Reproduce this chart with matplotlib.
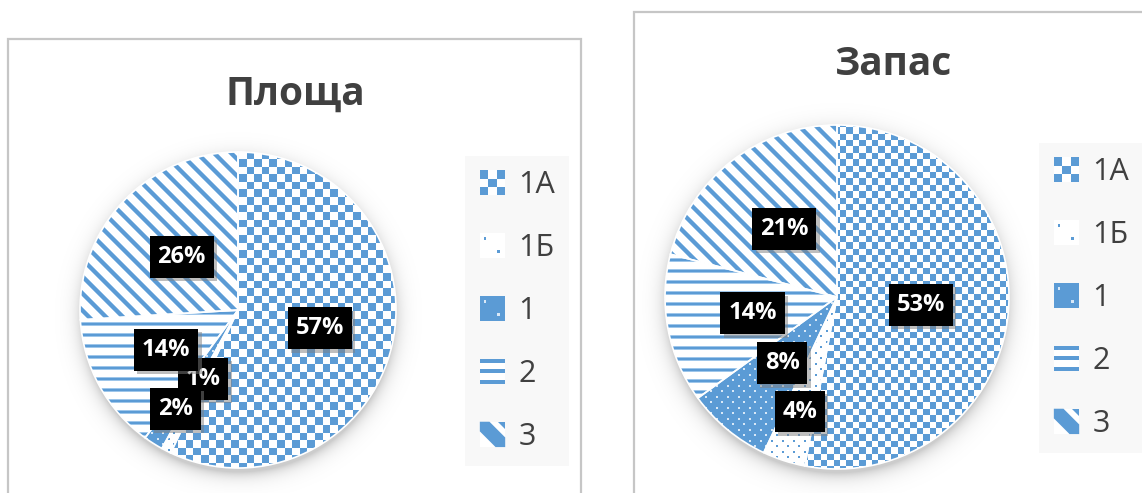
import numpy as np
import matplotlib
matplotlib.use("Agg")
import matplotlib.pyplot as plt
from matplotlib.patches import Rectangle, Polygon, Patch
from matplotlib.path import Path
import matplotlib.patheffects as pe

# ---------------- data ----------------
categories = ["1А", "1Б", "1", "2", "3"]
area_pct = [57, 1, 2, 14, 26]
stock_pct = [53, 4, 8, 14, 21]
chart_titles = ["Площа", "Запас"]

# ---------------- style ----------------
W, H, DPI = 1142, 493, 100
BLUE = np.array([91, 155, 213]) / 255.0
LIGHT = np.array([0.62, 0.78, 0.92])
TXT = "#404040"
kinds = ["checker", "dots", "dots_inv", "hstripes", "diag"]

plt.rcParams["font.family"] = ["Open Sans", "DejaVu Sans"]

fig = plt.figure(figsize=(W / DPI, H / DPI), dpi=DPI)
fig.patch.set_facecolor("white")

MARGIN = 1.25


def label_box(x0, y0, width, height, mutation_size):
    px, py = 0.33 * mutation_size, 0.38 * mutation_size
    return Path.unit_rectangle().transformed(
        matplotlib.transforms.Affine2D().scale(width + 2 * px, height + 2 * py).translate(x0 - px, y0 - py))


def px_axes(cx, cy, R):
    half = R * MARGIN
    ax = fig.add_axes([(cx - half) / W, (H - (cy + half)) / H, 2 * half / W, 2 * half / H])
    ax.axis("off")
    return ax, int(round(2 * half))


def texture(kind, n, cell):
    i, j = np.mgrid[0:n, 0:n]
    rgba = np.ones((n, n, 4))
    dot = (((i % 11) < 2) & ((j % 11) < 2)) | ((((i + 5) % 11) < 2) & (((j + 5) % 11) < 2))
    if kind == "checker":
        m = ((np.floor(i / cell) + np.floor(j / cell)) % 2) == 0
        rgba[m, :3] = BLUE
    elif kind == "dots":
        rgba[dot, :3] = BLUE
    elif kind == "dots_inv":
        rgba[:, :, :3] = BLUE
        rgba[dot, :3] = np.array([0.85, 0.91, 0.97])
    elif kind == "hstripes":
        p = i % 11
        rgba[(p == 0) | (p == 3), :3] = LIGHT
        rgba[(p == 1) | (p == 2), :3] = BLUE
    elif kind == "diag":
        p = (i - j) % 17
        rgba[(p == 0) | (p == 6), :3] = LIGHT
        rgba[(p >= 1) & (p <= 5), :3] = BLUE
    return rgba


def shadow_img(n):
    x = np.linspace(-MARGIN, MARGIN, n)
    X, Y = np.meshgrid(x, x[::-1])
    r = np.hypot(X, Y + 0.035)
    a = 0.20 * np.exp(-np.clip(r - 0.99, 0, None) / 0.045)
    img = np.zeros((n, n, 4))
    img[..., 3] = a
    return img


def draw_pie(cx, cy, R, values, cell, label_r):
    ax, n = px_axes(cx, cy, R)
    ext = (-MARGIN, MARGIN, -MARGIN, MARGIN)
    ax.imshow(shadow_img(n), extent=ext, zorder=0, interpolation="bilinear")
    wedges, _ = ax.pie(values, startangle=90, counterclock=False, radius=1,
                       wedgeprops=dict(facecolor="white", edgecolor="none"))
    for w in wedges:
        w.set_zorder(1)
    for w, k in zip(wedges, kinds):
        im = ax.imshow(texture(k, n, cell), extent=ext, zorder=2, interpolation="nearest")
        im.set_clip_path(w)
    edges, _ = ax.pie(values, startangle=90, counterclock=False, radius=1,
                      wedgeprops=dict(fill=False, edgecolor="white", linewidth=1.2))
    for e in edges:
        e.set_zorder(3)
    for w, v, rf in zip(wedges, values, label_r):
        ang = np.deg2rad((w.theta1 + w.theta2) / 2)
        t = ax.text(rf * np.cos(ang), rf * np.sin(ang), f"{v}%", ha="center", va="center",
                    color="white", fontsize=17, fontweight="bold", zorder=5,
                    bbox=dict(boxstyle=label_box, fc="black", ec="none"))
        t.get_bbox_patch().set_path_effects(
            [pe.SimplePatchShadow(offset=(2.5, -2.5), shadow_rgbFace="#7f7f7f", alpha=0.5), pe.Normal()])
    ax.set_xlim(-MARGIN, MARGIN)
    ax.set_ylim(-MARGIN, MARGIN)
    return ax


class TexProxy(Patch):
    def __init__(self, kind, **kw):
        super().__init__(**kw)
        self.kind = kind


class TexHandler:
    def legend_artist(self, legend, orig_handle, fontsize, handlebox):
        w, h = handlebox.width, handlebox.height
        s = min(w, h)
        ox = -handlebox.xdescent + (w - s) / 2
        oy = -handlebox.ydescent + (h - s) / 2
        kind = orig_handle.kind

        def rect(x, y, ww, hh, c):
            r = Rectangle((ox + x * s, oy + y * s), ww * s, hh * s, fc=c, ec="none")
            handlebox.add_artist(r)
            return r

        base = rect(0, 0, 1, 1, BLUE if kind == "dots_inv" else "white")
        if kind == "checker":
            rect(0, 0, 0.33, 0.33, BLUE)
            rect(0.66, 0, 0.34, 0.33, BLUE)
            rect(0.33, 0.33, 0.33, 0.33, BLUE)
            rect(0, 0.66, 0.33, 0.34, BLUE)
            rect(0.66, 0.66, 0.34, 0.34, BLUE)
        elif kind in ("dots", "dots_inv"):
            c = BLUE if kind == "dots" else (0.85, 0.91, 0.97)
            rect(0.15, 0.72, 0.11, 0.11, c)
            rect(0.68, 0.22, 0.11, 0.11, c)
        elif kind == "hstripes":
            for y in (0.02, 0.44, 0.84):
                rect(0, y, 1, 0.14, BLUE)
        elif kind == "diag":
            a = 0.38
            pts = [(0, 1), (a, 1), (1, a), (1, 0), (1 - a, 0), (0, 1 - a)]
            pts = [(ox + px * s, oy + py * s) for px, py in pts]
            handlebox.add_artist(Polygon(pts, closed=True, fc=BLUE, ec="none"))
            handlebox.add_artist(Polygon([(ox + 0.7 * s, oy + s), (ox + s, oy + s), (ox + s, oy + 0.7 * s)],
                                         closed=True, fc=BLUE, ec="none"))
        return base


def add_legend(cx, cy):
    handles = [TexProxy(k) for k in kinds]
    leg = fig.legend(handles, categories, loc="center", bbox_to_anchor=(cx / W, 1 - cy / H),
                     handler_map={TexProxy: TexHandler()}, fontsize=22, frameon=True,
                     fancybox=False, framealpha=1, labelspacing=1.07, handlelength=0.9,
                     handleheight=0.9, handletextpad=0.4, borderpad=0.45, borderaxespad=0)
    leg.get_frame().set_facecolor("#f8f8f8")
    leg.get_frame().set_edgecolor("none")
    for t in leg.get_texts():
        t.set_color(TXT)
    return leg


# panel borders
fig.add_artist(Rectangle((8 / W, -0.1), (581 - 8) / W, (H - 39) / H + 0.1, transform=fig.transFigure,
                         fill=False, ec="#c6c6c6", lw=1.6))
fig.add_artist(Rectangle((634 / W, -0.1), 0.6, (H - 12) / H + 0.1, transform=fig.transFigure,
                         fill=False, ec="#c6c6c6", lw=1.6))

# titles
fig.text(295 / W, 1 - 105 / H, chart_titles[0], ha="center", va="baseline", fontsize=28,
         fontweight="bold", color=TXT)
fig.text(893 / W, 1 - 75 / H, chart_titles[1], ha="center", va="baseline", fontsize=28,
         fontweight="bold", color=TXT)

draw_pie(238, 310, 158, area_pct, 7.6, [0.53, 0.49, 0.74, 0.52, 0.49])
draw_pie(837, 297, 172, stock_pct, 6.4, [0.49, 0.70, 0.50, 0.50, 0.50])

add_legend(517, 311)
add_legend(1091, 298)

fig.savefig("out.png", dpi=DPI)
